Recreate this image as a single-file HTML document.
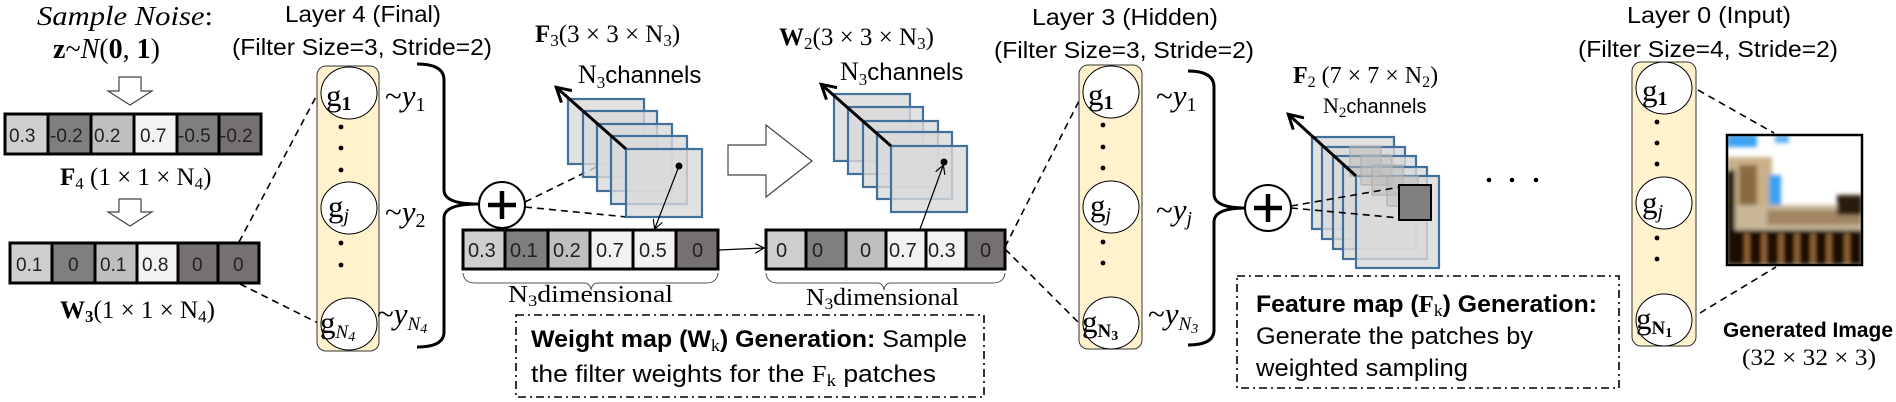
<!DOCTYPE html>
<html><head><meta charset="utf-8"><style>
html,body{margin:0;padding:0;background:#fff;}
svg{display:block;}
.s{font-family:"Liberation Sans",sans-serif;}
.r{font-family:"Liberation Serif",serif;}
</style></head><body>
<svg width="1896" height="402" viewBox="0 0 1896 402" xmlns="http://www.w3.org/2000/svg">
<defs>
<marker id="ah" markerWidth="10" markerHeight="10" refX="8" refY="5" orient="auto" markerUnits="userSpaceOnUse"><path d="M0,0 L9,5 L0,10" fill="none" stroke="#000" stroke-width="1.2"/></marker>
<marker id="ahb" markerWidth="18" markerHeight="18" refX="14" refY="9" orient="auto" markerUnits="userSpaceOnUse"><path d="M1,1 L15,9 L1,17" fill="none" stroke="#000" stroke-width="3"/></marker>
<filter id="bl"><feGaussianBlur stdDeviation="2"/></filter>
</defs>

<!-- LEFT: sample noise -->
<text x="37" y="25" class="r" font-style="italic" font-size="27" textLength="176" lengthAdjust="spacingAndGlyphs">Sample Noise<tspan font-style="normal">:</tspan></text>
<text x="53" y="58" class="r" font-size="28"><tspan font-weight="bold">z</tspan>~<tspan font-style="italic">N</tspan>(<tspan font-weight="bold">0</tspan>, <tspan font-weight="bold">1</tspan>)</text>
<path d="M119,77 H141 V91 H152 L130,105 L108,91 H119 Z" fill="#fff" stroke="#444" stroke-width="1.2"/>
<g stroke="#000" stroke-width="3">
<rect x="5" y="114" width="43" height="40" fill="#d0cece"/>
<rect x="48" y="114" width="43" height="40" fill="#7f7f7f"/>
<rect x="91" y="114" width="43" height="40" fill="#bfbfbf"/>
<rect x="134" y="114" width="43" height="40" fill="#f2f2f2"/>
<rect x="177" y="114" width="42" height="40" fill="#7f7f7f"/>
<rect x="219" y="114" width="42" height="40" fill="#767171"/>
</g>
<g class="s" font-size="19" fill="#222">
<text x="9" y="142">0.3</text><text x="50" y="142">-0.2</text><text x="94" y="142">0.2</text><text x="140" y="142">0.7</text><text x="178" y="142">-0.5</text><text x="220" y="142">-0.2</text>
</g>
<text x="60" y="185" class="r" font-size="25"><tspan font-weight="bold">F</tspan><tspan font-size="17" dy="4">4</tspan><tspan dy="-4">  (1 × 1 × N</tspan><tspan font-size="17" dy="4">4</tspan><tspan dy="-4">)</tspan></text>
<path d="M119,199 H141 V212 H152 L130,226 L108,212 H119 Z" fill="#fff" stroke="#444" stroke-width="1.2"/>
<g stroke="#000" stroke-width="3">
<rect x="10" y="243" width="42" height="40" fill="#d0cece"/>
<rect x="52" y="243" width="43" height="40" fill="#7f7f7f"/>
<rect x="95" y="243" width="42" height="40" fill="#bfbfbf"/>
<rect x="137" y="243" width="41" height="40" fill="#f2f2f2"/>
<rect x="178" y="243" width="40" height="40" fill="#767171"/>
<rect x="218" y="243" width="41" height="40" fill="#767171"/>
</g>
<g class="s" font-size="19" fill="#222">
<text x="16" y="271">0.1</text><text x="68" y="271">0</text><text x="100" y="271">0.1</text><text x="142" y="271">0.8</text><text x="192" y="271">0</text><text x="233" y="271">0</text>
</g>
<text x="60" y="318" class="r" font-size="25"><tspan font-weight="bold">W</tspan><tspan font-size="17" dy="4" font-weight="bold">3</tspan><tspan dy="-4">(1 × 1 × N</tspan><tspan font-size="17" dy="4">4</tspan><tspan dy="-4">)</tspan></text>

<!-- Layer 4 -->
<text x="285" y="22" class="s" font-size="23" textLength="156" lengthAdjust="spacingAndGlyphs">Layer 4 (Final)</text>
<text x="232" y="55" class="s" font-size="23" textLength="260" lengthAdjust="spacingAndGlyphs">(Filter Size=3, Stride=2)</text>
<line x1="239" y1="242" x2="318" y2="93" stroke="#000" stroke-width="1.6" stroke-dasharray="7,5"/>
<line x1="240" y1="284" x2="318" y2="323" stroke="#000" stroke-width="1.6" stroke-dasharray="7,5"/>
<rect x="317" y="66" width="62" height="285" rx="9" fill="#fff2cc" stroke="#333" stroke-width="1"/>
<g fill="#fff" stroke="#000" stroke-width="1">
<ellipse cx="349" cy="93" rx="28" ry="26"/><ellipse cx="349" cy="208" rx="28" ry="26"/><ellipse cx="349" cy="324" rx="28" ry="26"/>
</g>
<g fill="#000"><circle cx="341" cy="127" r="2.4"/><circle cx="341" cy="148" r="2.4"/><circle cx="341" cy="170" r="2.4"/><circle cx="341" cy="243" r="2.4"/><circle cx="341" cy="265" r="2.4"/></g>
<g class="r" font-size="31">
<text x="326" y="106">g<tspan font-size="20" dy="4" font-weight="bold">1</tspan></text>
<text x="328" y="217">g<tspan font-size="20" dy="5" font-style="italic">j</tspan></text>
<text x="320" y="333">g<tspan font-size="19" dy="5" font-style="italic">N<tspan font-size="14" dy="3">4</tspan></tspan></text>
<text x="385" y="106">~<tspan font-style="italic">y</tspan><tspan font-size="20" dy="5">1</tspan></text>
<text x="385" y="222">~<tspan font-style="italic">y</tspan><tspan font-size="20" dy="5">2</tspan></text>
<text x="377" y="324">~<tspan font-style="italic">y</tspan><tspan font-size="19" dy="6" font-style="italic">N<tspan font-size="14" dy="3">4</tspan></tspan></text>
</g>
<path d="M417,64 Q444,64 444,80 V190 Q444,204 478,204 Q444,204 444,218 V332 Q444,347 417,347" fill="none" stroke="#000" stroke-width="3"/>
<circle cx="502" cy="205" r="23" fill="#fff" stroke="#000" stroke-width="2"/>
<path d="M488,205 H516 M502,191 V219" stroke="#000" stroke-width="4.5"/>
<line x1="525" y1="202" x2="627" y2="152" stroke="#000" stroke-width="1.6" stroke-dasharray="7,5"/>
<line x1="525" y1="207" x2="627" y2="217" stroke="#000" stroke-width="1.6" stroke-dasharray="7,5"/>

<!-- F3 stack -->
<text x="535" y="42" class="r" font-size="25"><tspan font-weight="bold">F</tspan><tspan font-size="17" dy="4">3</tspan><tspan dy="-4">(3 × 3 × N</tspan><tspan font-size="17" dy="4">3</tspan><tspan dy="-4">)</tspan></text>
<text x="578" y="83" class="s" font-size="24"><tspan class="r" font-size="26">N</tspan><tspan class="r" font-size="17" dy="5">3</tspan><tspan dy="-5">channels</tspan></text>
<g fill="#d9d9d9" fill-opacity="0.8" stroke="#41719c" stroke-width="2.2">
<rect x="568" y="99" width="76" height="65"/><rect x="583" y="111" width="74" height="66"/><rect x="597" y="124" width="75" height="67"/><rect x="611" y="136" width="76" height="68"/><rect x="626" y="149" width="76" height="68"/>
</g>
<line x1="626" y1="149" x2="557" y2="88" stroke="#000" stroke-width="3" marker-end="url(#ahb)"/>
<circle cx="679" cy="166" r="3.5" fill="#000"/>
<line x1="679" y1="166" x2="655" y2="228" stroke="#000" stroke-width="1.2" marker-end="url(#ah)"/>
<g stroke="#000" stroke-width="3">
<rect x="463" y="230" width="42" height="39" fill="#d0cece"/>
<rect x="505" y="230" width="43" height="39" fill="#7f7f7f"/>
<rect x="548" y="230" width="42" height="39" fill="#bfbfbf"/>
<rect x="590" y="230" width="43" height="39" fill="#f2f2f2"/>
<rect x="633" y="230" width="43" height="39" fill="#f2f2f2"/>
<rect x="676" y="230" width="42" height="39" fill="#767171"/>
</g>
<g class="s" font-size="20" fill="#222">
<text x="468" y="257">0.3</text><text x="510" y="257">0.1</text><text x="553" y="257">0.2</text><text x="596" y="257">0.7</text><text x="639" y="257">0.5</text><text x="692" y="257">0</text>
</g>
<path d="M463,273 Q464,283 475,283 H584 Q590,283 591,290 Q592,283 598,283 H706 Q717,283 718,273" fill="none" stroke="#555" stroke-width="1"/>
<text x="508" y="302" class="r" font-size="24" textLength="165" lengthAdjust="spacingAndGlyphs">N<tspan font-size="16" dy="4">3</tspan><tspan dy="-4">dimensional</tspan></text>
<line x1="719" y1="250" x2="763" y2="248" stroke="#000" stroke-width="1.2" marker-end="url(#ah)"/>

<rect x="516" y="315" width="468" height="82" fill="none" stroke="#000" stroke-width="1.6" stroke-dasharray="8,4,2,4"/>
<text x="531" y="347" class="s" font-size="24" textLength="436" lengthAdjust="spacingAndGlyphs"><tspan font-weight="bold">Weight map (W<tspan class="r" font-weight="normal" font-size="17" dy="4">k</tspan><tspan dy="-4">) Generation:</tspan></tspan> Sample</text>
<text x="531" y="382" class="s" font-size="24" textLength="405" lengthAdjust="spacingAndGlyphs">the filter weights for the <tspan class="r">F</tspan><tspan class="r" font-size="17" dy="4">k</tspan><tspan dy="-4"> patches</tspan></text>

<!-- big hollow arrow -->
<path d="M728,145 H766 V125 L812,161 L766,197 V175 H728 Z" fill="#fff" stroke="#444" stroke-width="1.2"/>

<!-- W2 stack -->
<text x="779" y="45" class="r" font-size="25"><tspan font-weight="bold">W</tspan><tspan font-size="17" dy="4">2</tspan><tspan dy="-4">(3 × 3 × N</tspan><tspan font-size="17" dy="4">3</tspan><tspan dy="-4">)</tspan></text>
<text x="840" y="80" class="s" font-size="24"><tspan class="r" font-size="26">N</tspan><tspan class="r" font-size="17" dy="5">3</tspan><tspan dy="-5">channels</tspan></text>
<g fill="#d9d9d9" fill-opacity="0.8" stroke="#41719c" stroke-width="2.2">
<rect x="834" y="94" width="76" height="67"/><rect x="848" y="107" width="75" height="67"/><rect x="863" y="121" width="75" height="66"/><rect x="877" y="132" width="75" height="67"/><rect x="891" y="146" width="76" height="66"/>
</g>
<line x1="891" y1="146" x2="822" y2="85" stroke="#000" stroke-width="3" marker-end="url(#ahb)"/>
<circle cx="944" cy="162" r="3.5" fill="#000"/>
<line x1="920" y1="229" x2="943" y2="166" stroke="#000" stroke-width="1.2" marker-end="url(#ah)"/>
<g stroke="#000" stroke-width="3">
<rect x="766" y="230" width="40" height="39" fill="#d0cece"/>
<rect x="806" y="230" width="40" height="39" fill="#7f7f7f"/>
<rect x="846" y="230" width="40" height="39" fill="#bfbfbf"/>
<rect x="886" y="230" width="40" height="39" fill="#f2f2f2"/>
<rect x="926" y="230" width="40" height="39" fill="#f2f2f2"/>
<rect x="966" y="230" width="39" height="39" fill="#767171"/>
</g>
<g class="s" font-size="20" fill="#222">
<text x="776" y="257">0</text><text x="812" y="257">0</text><text x="860" y="257">0</text><text x="889" y="257">0.7</text><text x="928" y="257">0.3</text><text x="980" y="257">0</text>
</g>
<path d="M766,273 Q767,283 778,283 H877 Q883,283 884,290 Q885,283 891,283 H993 Q1004,283 1005,273" fill="none" stroke="#555" stroke-width="1"/>
<text x="806" y="305" class="r" font-size="24" textLength="153" lengthAdjust="spacingAndGlyphs">N<tspan font-size="16" dy="4">3</tspan><tspan dy="-4">dimensional</tspan></text>
<line x1="1005" y1="247" x2="1081" y2="97" stroke="#000" stroke-width="1.6" stroke-dasharray="7,5"/>
<line x1="1005" y1="249" x2="1081" y2="325" stroke="#000" stroke-width="1.6" stroke-dasharray="7,5"/>

<!-- Layer 3 -->
<text x="1032" y="25" class="s" font-size="23" textLength="186" lengthAdjust="spacingAndGlyphs">Layer 3 (Hidden)</text>
<text x="994" y="58" class="s" font-size="23" textLength="260" lengthAdjust="spacingAndGlyphs">(Filter Size=3, Stride=2)</text>
<rect x="1079" y="65" width="63" height="284" rx="9" fill="#fff2cc" stroke="#333" stroke-width="1"/>
<g fill="#fff" stroke="#000" stroke-width="1">
<ellipse cx="1111" cy="92" rx="28" ry="26"/><ellipse cx="1111" cy="207" rx="28" ry="26"/><ellipse cx="1111" cy="323" rx="28" ry="26"/>
</g>
<g fill="#000"><circle cx="1103" cy="125" r="2.4"/><circle cx="1103" cy="147" r="2.4"/><circle cx="1103" cy="168" r="2.4"/><circle cx="1103" cy="242" r="2.4"/><circle cx="1103" cy="263" r="2.4"/></g>
<g class="r" font-size="31">
<text x="1088" y="105">g<tspan font-size="20" dy="4" font-weight="bold">1</tspan></text>
<text x="1090" y="216">g<tspan font-size="20" dy="5" font-style="italic">j</tspan></text>
<text x="1082" y="332">g<tspan font-size="19" dy="5" font-weight="bold">N<tspan font-size="14" dy="3">3</tspan></tspan></text>
<text x="1156" y="106">~<tspan font-style="italic">y</tspan><tspan font-size="20" dy="5">1</tspan></text>
<text x="1156" y="220">~<tspan font-style="italic">y</tspan><tspan font-size="20" dy="5" font-style="italic">j</tspan></text>
<text x="1148" y="324">~<tspan font-style="italic">y</tspan><tspan font-size="19" dy="6" font-style="italic">N<tspan font-size="14" dy="3">3</tspan></tspan></text>
</g>
<path d="M1188,71 Q1214,71 1214,87 V194 Q1214,208 1246,208 Q1214,208 1214,222 V330 Q1214,345 1188,345" fill="none" stroke="#000" stroke-width="3"/>
<circle cx="1268" cy="208" r="23" fill="#fff" stroke="#000" stroke-width="2"/>
<path d="M1254,208 H1282 M1268,194 V222" stroke="#000" stroke-width="4.5"/>

<!-- F2 stack -->
<text x="1293" y="83" class="r" font-size="24"><tspan font-weight="bold">F</tspan><tspan font-size="16" dy="4">2</tspan><tspan dy="-4"> (7 × 7 × N</tspan><tspan font-size="16" dy="4">2</tspan><tspan dy="-4">)</tspan></text>
<text x="1323" y="113" class="s" font-size="20"><tspan class="r" font-size="22">N</tspan><tspan class="r" font-size="15" dy="4">2</tspan><tspan dy="-4">channels</tspan></text>
<g fill="#d9d9d9" fill-opacity="0.8" stroke="#41719c" stroke-width="2.2">
<rect x="1312" y="137" width="82" height="92"/>
<rect x="1322" y="147" width="83" height="92"/>
<rect x="1333" y="156" width="83" height="93"/>
<rect x="1343" y="167" width="84" height="92"/>
<rect x="1356" y="176" width="83" height="92"/>
</g>
<g fill="#bbb" fill-opacity="0.5" stroke="#aaa" stroke-width="1">
<rect x="1350" y="146" width="31" height="30"/><rect x="1361" y="155" width="31" height="30"/><rect x="1372" y="165" width="31" height="30"/><rect x="1387" y="176" width="31" height="30"/>
</g>
<line x1="1356" y1="176" x2="1289" y2="115" stroke="#000" stroke-width="3" marker-end="url(#ahb)"/>
<rect x="1399" y="185" width="32" height="35" fill="#808080" stroke="#000" stroke-width="2"/>
<line x1="1291" y1="206" x2="1400" y2="187" stroke="#000" stroke-width="1.6" stroke-dasharray="7,5"/>
<line x1="1291" y1="208" x2="1400" y2="218" stroke="#000" stroke-width="1.6" stroke-dasharray="7,5"/>
<g fill="#000"><circle cx="1489" cy="180" r="2.3"/><circle cx="1512" cy="180" r="2.3"/><circle cx="1536" cy="180" r="2.3"/></g>

<rect x="1237" y="276" width="382" height="112" fill="none" stroke="#000" stroke-width="1.6" stroke-dasharray="8,4,2,4"/>
<text x="1256" y="312" class="s" font-size="24" font-weight="bold" textLength="341" lengthAdjust="spacingAndGlyphs">Feature map (<tspan class="r">F</tspan><tspan class="r" font-weight="normal" font-size="17" dy="4">k</tspan><tspan dy="-4">) Generation:</tspan></text>
<text x="1256" y="344" class="s" font-size="24" textLength="277" lengthAdjust="spacingAndGlyphs">Generate the patches by</text>
<text x="1256" y="376" class="s" font-size="24" textLength="212" lengthAdjust="spacingAndGlyphs">weighted sampling</text>

<!-- Layer 0 -->
<text x="1627" y="23" class="s" font-size="23" textLength="164" lengthAdjust="spacingAndGlyphs">Layer 0 (Input)</text>
<text x="1578" y="57" class="s" font-size="23" textLength="260" lengthAdjust="spacingAndGlyphs">(Filter Size=4, Stride=2)</text>
<rect x="1632" y="62" width="64" height="284" rx="9" fill="#fff2cc" stroke="#333" stroke-width="1"/>
<g fill="#fff" stroke="#000" stroke-width="1">
<ellipse cx="1664" cy="88" rx="28" ry="26"/><ellipse cx="1664" cy="203" rx="28" ry="26"/><ellipse cx="1664" cy="320" rx="28" ry="26"/>
</g>
<g fill="#000"><circle cx="1657" cy="122" r="2.4"/><circle cx="1657" cy="143" r="2.4"/><circle cx="1657" cy="164" r="2.4"/><circle cx="1657" cy="238" r="2.4"/><circle cx="1657" cy="259" r="2.4"/></g>
<g class="r" font-size="31">
<text x="1642" y="101">g<tspan font-size="20" dy="4" font-weight="bold">1</tspan></text>
<text x="1642" y="213">g<tspan font-size="20" dy="5" font-style="italic">j</tspan></text>
<text x="1636" y="329">g<tspan font-size="19" dy="5" font-weight="bold">N<tspan font-size="14" dy="3">1</tspan></tspan></text>
</g>
<line x1="1698" y1="90" x2="1774" y2="133" stroke="#000" stroke-width="1.6" stroke-dasharray="7,5"/>
<line x1="1700" y1="313" x2="1776" y2="267" stroke="#000" stroke-width="1.6" stroke-dasharray="7,5"/>

<!-- generated image -->
<svg x="1727" y="135" width="135" height="130" viewBox="0 0 135 130">
<rect width="135" height="130" fill="#fff"/>
<g filter="url(#bl)">
<rect x="0" y="0" width="30" height="12" fill="#3aa0f0"/>
<rect x="48" y="0" width="14" height="8" fill="#5ab0f5"/>
<rect x="0" y="22" width="45" height="70" fill="#c9b08a"/>
<rect x="12" y="30" width="18" height="55" fill="#8a6a40"/>
<rect x="42" y="40" width="12" height="32" fill="#3aa0f0"/>
<rect x="0" y="70" width="135" height="30" fill="#c8b798"/>
<rect x="40" y="75" width="95" height="15" fill="#a08662"/>
<rect x="110" y="60" width="25" height="20" fill="#2a1a08"/>
<rect x="0" y="95" width="135" height="35" fill="#1a0f05"/>
<g fill="#a2703d"><rect x="18" y="98" width="4" height="32"/><rect x="35" y="98" width="4" height="32"/><rect x="52" y="98" width="4" height="32"/><rect x="68" y="98" width="4" height="32"/><rect x="84" y="98" width="4" height="32"/><rect x="100" y="98" width="4" height="32"/><rect x="118" y="98" width="4" height="32"/></g>
<rect x="0" y="35" width="8" height="60" fill="#1a0f05"/>
</g>
</svg>
<rect x="1727" y="135" width="135" height="130" fill="none" stroke="#000" stroke-width="2.5"/>
<text x="1723" y="337" class="s" font-size="21" font-weight="bold" textLength="170" lengthAdjust="spacingAndGlyphs">Generated Image</text>
<text x="1742" y="365" class="r" font-size="23" textLength="134" lengthAdjust="spacingAndGlyphs">(32 × 32 × 3)</text>
</svg>
</body></html>
